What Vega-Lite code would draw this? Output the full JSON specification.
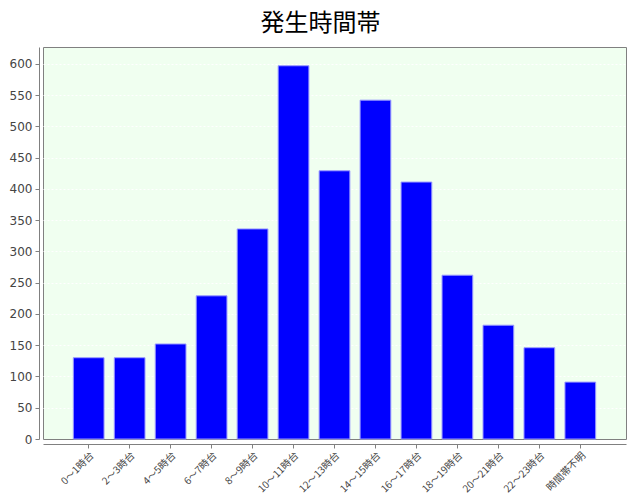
{
  "$schema": "https://vega.github.io/schema/vega-lite/v6.json",
  "autosize": {"type": "none"},
  "padding": {"left": 43, "top": 47, "right": 14, "bottom": 61},
  "width": 583,
  "height": 392,
  "background": "white",
  "title": {
    "text": "発生時間帯",
    "font": "Noto Sans CJK JP",
    "fontSize": 24,
    "fontWeight": "normal",
    "color": "#000000",
    "anchor": "middle",
    "dx": -14,
    "offset": 11
  },
  "config": {
    "view": {"fill": "#F0FFF0", "stroke": "#808080", "strokeWidth": 1}
  },
  "data": {
    "values": [
      {"time": "0〜1時台", "count": 130},
      {"time": "2〜3時台", "count": 130},
      {"time": "4〜5時台", "count": 152},
      {"time": "6〜7時台", "count": 229},
      {"time": "8〜9時台", "count": 336},
      {"time": "10〜11時台", "count": 597},
      {"time": "12〜13時台", "count": 429},
      {"time": "14〜15時台", "count": 542},
      {"time": "16〜17時台", "count": 411},
      {"time": "18〜19時台", "count": 262},
      {"time": "20〜21時台", "count": 182},
      {"time": "22〜23時台", "count": 146},
      {"time": "時間帯不明", "count": 91}
    ]
  },
  "mark": {"type": "bar", "fill": "#0000FF", "stroke": "#9A9AFF", "strokeWidth": 1},
  "encoding": {
    "x": {
      "field": "time",
      "type": "nominal",
      "sort": null,
      "scale": {"paddingInner": 0.25, "paddingOuter": 0.74},
      "axis": {
        "title": null,
        "labelAngle": -45,
        "labelFont": "Noto Sans CJK JP",
        "labelFontSize": 10,
        "labelColor": "#444444",
        "domainColor": "#808080",
        "tickColor": "#808080",
        "tickSize": 4,
        "offset": 5,
        "labelPadding": 2
      }
    },
    "y": {
      "field": "count",
      "type": "quantitative",
      "scale": {"domain": [0, 627], "nice": false},
      "axis": {
        "title": null,
        "values": [0, 50, 100, 150, 200, 250, 300, 350, 400, 450, 500, 550, 600],
        "labelFont": "DejaVu Sans",
        "labelFontSize": 12,
        "labelColor": "#444444",
        "domainColor": "#808080",
        "tickColor": "#808080",
        "tickSize": 4,
        "offset": 4,
        "labelPadding": 3,
        "grid": true,
        "gridColor": "#FFFFFF",
        "gridDash": [2, 2],
        "gridOpacity": {"condition": {"test": "datum.value === 0", "value": 0}, "value": 1}
      }
    }
  }
}
